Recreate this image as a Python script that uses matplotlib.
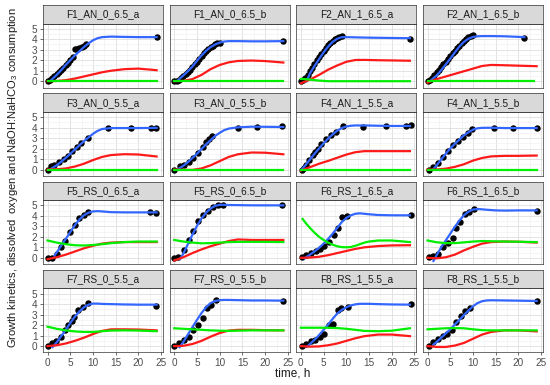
import matplotlib
matplotlib.use("Agg")
import matplotlib.pyplot as plt

plt.rcParams['font.family'] = ['Liberation Sans', 'DejaVu Sans']
plt.rcParams['mathtext.default'] = 'regular'

panels = ['F1_AN_0_6.5_a', 'F1_AN_0_6.5_b', 'F2_AN_1_6.5_a', 'F2_AN_1_6.5_b',
          'F3_AN_0_5.5_a', 'F3_AN_0_5.5_b', 'F4_AN_1_5.5_a', 'F4_AN_1_5.5_b',
          'F5_RS_0_6.5_a', 'F5_RS_0_6.5_b', 'F6_RS_1_6.5_a', 'F6_RS_1_6.5_b',
          'F7_RS_0_5.5_a', 'F7_RS_0_5.5_b', 'F8_RS_1_5.5_a', 'F8_RS_1_5.5_b']

# time grid used for the red curves
grid_t = [0, 2, 4, 6, 8, 10, 12, 14, 17, 20, 24]
half_h = [0, 0.5, 1, 1.5, 2, 2.5, 3, 3.5, 4, 4.5, 5, 5.5, 6, 6.5, 7, 7.5, 8, 8.5, 9, 9.5, 10]

# measured growth (black points)
points = {
    'F1_AN_0_6.5_a': (half_h[:12] + [6, 6.5, 7, 7.5, 8, 8.5, 24],
                      [0, 0.1, 0.3, 0.5, 0.7, 0.9, 1.1, 1.3, 1.5, 1.75, 2.0, 2.3,
                       3.05, 3.1, 3.2, 3.3, 3.4, 3.5, 4.25]),
    'F1_AN_0_6.5_b': (half_h + [24],
                      [0, 0.05, 0.15, 0.3, 0.45, 0.65, 0.86, 1.1, 1.35, 1.6, 1.85, 2.1, 2.4,
                       2.65, 2.9, 3.1, 3.25, 3.4, 3.5, 3.6, 3.68, 3.82]),
    'F2_AN_1_6.5_a': (half_h[:19] + [24],
                      [0, 0.1, 0.3, 0.6, 0.95, 1.3, 1.65, 2.0, 2.3, 2.6, 2.9, 3.2, 3.45,
                       3.65, 3.85, 4.0, 4.1, 4.2, 4.27, 4.05]),
    'F2_AN_1_6.5_b': (half_h + [21.3],
                      [0, 0.15, 0.35, 0.6, 0.85, 1.1, 1.35, 1.6, 1.85, 2.1, 2.4, 2.65, 2.9,
                       3.15, 3.4, 3.65, 3.85, 4.05, 4.2, 4.3, 4.38, 4.1]),
    'F3_AN_0_5.5_a': ([0, 0.7, 1.5, 2.6, 3.7, 4.4, 5.3, 6.5, 7.4, 8.8, 13.4, 18.4, 22.8, 23.9],
                      [0, 0.32, 0.45, 0.7, 1.0, 1.3, 1.8, 2.1, 2.5, 3.0, 3.95, 3.95, 3.95, 4.0]),
    'F3_AN_0_5.5_b': ([0, 1.2, 2.2, 3.3, 4.2, 5.3, 6.4, 6.9, 7.7, 8.2, 14.1, 18.2, 23.7],
                      [0, 0.3, 0.45, 0.75, 1.1, 1.55, 2.1, 2.6, 2.9, 3.15, 3.95, 4.05, 4.1]),
    'F4_AN_1_5.5_a': ([0.2, 0.7, 1.2, 1.9, 2.6, 3.2, 3.8, 4.5, 5.6, 6.7, 7.8, 9.3, 13.7, 18.8, 23.2, 24.2],
                      [0, 0.15, 0.45, 0.9, 1.35, 1.7, 2.0, 2.45, 2.95, 3.25, 3.55, 4.1, 4.05, 4.15, 4.15, 4.25]),
    'F4_AN_1_5.5_b': ([0.4, 1.3, 2.2, 3.3, 4.4, 5.5, 6.6, 7.7, 8.8, 9.8, 14.6, 18.7, 24.1],
                      [0, 0.25, 0.6, 1.2, 1.75, 2.3, 2.7, 3.1, 3.5, 3.9, 3.95, 3.95, 3.95]),
    'F5_RS_0_6.5_a': ([0, 0.9, 2.1, 2.9, 3.9, 4.9, 6.0, 7, 8, 9, 22.6, 23.9],
                      [0, 0, 0.4, 1.05, 1.6, 2.5, 3.1, 3.8, 4.1, 4.4, 4.35, 4.25]),
    'F5_RS_0_6.5_b': ([0, 0.9, 2.2, 3.3, 4.2, 5.3, 6.4, 7.5, 8.6, 9.7, 10.7, 23.7],
                      [0, 0.05, 0.7, 1.65, 2.6, 3.5, 4.05, 4.5, 4.8, 5.0, 5.0, 5.05]),
    'F6_RS_1_6.5_a': ([0.2, 1.2, 2.3, 3.4, 4.3, 5.2, 6.3, 7.4, 8.2, 9.1, 10.2, 24.2],
                      [0.05, 0.3, 0.5, 0.65, 0.85, 1.1, 1.5, 2.2, 2.8, 3.85, 4.0, 4.05]),
    'F6_RS_1_6.5_b': ([0.4, 1.3, 2.2, 3.3, 4.4, 5.5, 6.3, 7.2, 8.2, 9.2, 10.3, 24.1],
                      [0.05, 0.2, 0.4, 1.0, 1.4, 1.9, 2.8, 3.4, 4.2, 4.4, 4.65, 4.45]),
    'F7_RS_0_5.5_a': ([0, 0.9, 1.8, 2.9, 3.8, 4.6, 5.4, 5.9, 6.8, 7.9, 9.0, 23.9],
                      [0, 0.3, 0.5, 0.9, 1.5, 2.0, 2.4, 2.8, 3.4, 3.7, 4.1, 3.85]),
    'F7_RS_0_5.5_b': ([0, 1, 2.2, 3.2, 4.2, 5.3, 6.3, 7.1, 8.1, 9.2, 24],
                      [0, 0.3, 0.55, 0.85, 1.5, 2.0, 2.7, 3.6, 3.9, 4.35, 4.3]),
    'F8_RS_1_5.5_a': ([0.2, 1.2, 2.3, 3.2, 4.3, 5.2, 6.3, 7.1, 8.2, 8.9, 10.4, 24.2],
                      [0, 0.2, 0.45, 0.6, 0.9, 1.2, 2.0, 2.1, 3.45, 3.6, 3.75, 4.0]),
    'F8_RS_1_5.5_b': ([0.4, 1.3, 2.2, 3.3, 4.3, 5.3, 6.2, 7.4, 8.3, 9.3, 24.1],
                      [0, 0.4, 0.7, 1.0, 1.2, 1.55, 2.3, 2.9, 3.3, 3.65, 4.3]),
}

# fitted growth curve (blue)
blue = {
    'F1_AN_0_6.5_a': ([0.7, 2, 3, 4, 5, 6, 7, 8, 9, 10, 11, 12, 14, 17, 20, 24],
                      [0.05, 0.6, 1.05, 1.55, 2.0, 2.45, 2.85, 3.25, 3.6, 3.9, 4.1, 4.2, 4.25, 4.22, 4.2, 4.2]),
    'F1_AN_0_6.5_b': ([0.7, 2, 3, 4, 5, 6, 7, 8, 9, 10, 11, 12, 14, 17, 20, 24],
                      [0.05, 0.55, 0.95, 1.4, 1.95, 2.45, 2.9, 3.25, 3.5, 3.68, 3.78, 3.82, 3.82, 3.8, 3.8, 3.82]),
    'F2_AN_1_6.5_a': ([1.3, 2, 3, 4, 5, 6, 7, 8, 9, 10, 12, 15, 20, 24],
                      [0.0, 0.75, 1.45, 2.1, 2.75, 3.3, 3.75, 4.05, 4.2, 4.2, 4.18, 4.15, 4.12, 4.1]),
    'F2_AN_1_6.5_b': ([0.7, 2, 3, 4, 5, 6, 7, 8, 9, 10, 11, 12, 14, 17, 21.3],
                      [0.06, 0.55, 1.05, 1.6, 2.15, 2.75, 3.3, 3.75, 4.05, 4.22, 4.28, 4.3, 4.3, 4.28, 4.2]),
    'F3_AN_0_5.5_a': ([0.7, 2, 3, 4, 5, 6, 7, 8, 9, 10, 11, 12, 14, 17, 20, 24],
                      [0.05, 0.4, 0.75, 1.1, 1.5, 1.9, 2.3, 2.7, 3.05, 3.4, 3.68, 3.86, 3.95, 3.95, 3.95, 3.97]),
    'F3_AN_0_5.5_b': ([0.9, 2, 3, 4, 5, 6, 7, 8, 9, 10, 11, 12, 14, 17, 20, 24],
                      [0.06, 0.35, 0.7, 1.1, 1.5, 1.95, 2.4, 2.8, 3.2, 3.5, 3.75, 3.9, 4.02, 4.08, 4.07, 4.05]),
    'F4_AN_1_5.5_a': ([0.2, 1, 2, 3, 4, 5, 6, 7, 8, 9, 10, 11, 12, 14, 17, 20, 24],
                      [0, 0.4, 0.95, 1.5, 2.0, 2.5, 2.95, 3.35, 3.7, 3.95, 4.1, 4.17, 4.2, 4.2, 4.17, 4.15, 4.15]),
    'F4_AN_1_5.5_b': ([1.3, 2, 3, 4, 5, 6, 7, 8, 9, 10, 11, 12, 14, 17, 20, 24],
                      [0.05, 0.4, 0.95, 1.5, 2.0, 2.45, 2.85, 3.25, 3.55, 3.8, 3.93, 3.97, 3.98, 3.95, 3.95, 3.95]),
    'F5_RS_0_6.5_a': ([1.5, 2, 3, 4, 5, 6, 7, 8, 9, 10, 11, 12, 14, 17, 20, 24],
                      [0.2, 0.5, 1.15, 1.8, 2.45, 3.1, 3.65, 4.05, 4.3, 4.42, 4.45, 4.42, 4.35, 4.33, 4.33, 4.33]),
    'F5_RS_0_6.5_b': ([1.3, 2, 3, 4, 5, 6, 7, 8, 9, 10, 11, 12, 14, 17, 20, 24],
                      [-0.1, 0.4, 1.3, 2.2, 3.05, 3.75, 4.3, 4.7, 4.95, 5.05, 5.05, 5.03, 5.02, 5.0, 5.0, 5.0]),
    'F6_RS_1_6.5_a': ([0.8, 2, 3, 4, 5, 6, 7, 8, 9, 10, 11, 12, 13, 15, 17, 20, 24],
                      [-0.05, 0.3, 0.6, 0.95, 1.35, 1.8, 2.3, 2.85, 3.4, 3.8, 4.05, 4.2, 4.24, 4.15, 4.08, 4.05, 4.05]),
    'F6_RS_1_6.5_b': ([1.3, 2, 3, 4, 5, 6, 7, 8, 9, 10, 11, 12, 13, 15, 17, 20, 24],
                      [-0.3, 0.25, 1.0, 1.65, 2.3, 2.95, 3.55, 4.05, 4.4, 4.6, 4.65, 4.62, 4.58, 4.52, 4.5, 4.52, 4.52]),
    'F7_RS_0_5.5_a': ([1.1, 2, 3, 4, 5, 6, 7, 8, 9, 10, 11, 12, 14, 17, 20, 24],
                      [-0.1, 0.35, 0.95, 1.55, 2.2, 2.8, 3.3, 3.7, 3.95, 4.05, 4.05, 4.02, 4.0, 3.97, 3.95, 3.95]),
    'F7_RS_0_5.5_b': ([1.2, 2, 3, 4, 5, 6, 7, 8, 9, 10, 11, 12, 14, 17, 20, 24],
                      [-0.1, 0.4, 1.1, 1.8, 2.5, 3.15, 3.7, 4.1, 4.3, 4.38, 4.4, 4.4, 4.38, 4.35, 4.35, 4.33]),
    'F8_RS_1_5.5_a': ([1.5, 2, 3, 4, 5, 6, 7, 8, 9, 10, 11, 12, 13, 15, 17, 20, 24],
                      [0, 0.2, 0.6, 1.05, 1.55, 2.05, 2.6, 3.1, 3.45, 3.7, 3.88, 3.98, 4.03, 4.03, 4.0, 3.97, 3.95]),
    'F8_RS_1_5.5_b': ([1.3, 2, 3, 4, 5, 6, 7, 8, 9, 10, 11, 12, 13, 14, 17, 20, 24],
                      [0.15, 0.4, 0.8, 1.2, 1.6, 2.05, 2.5, 2.95, 3.4, 3.8, 4.1, 4.28, 4.35, 4.37, 4.35, 4.33, 4.3]),
}

# NaOH:NaHCO3 consumption (red), on grid_t
red = {
    'F1_AN_0_6.5_a': [0, 0.02, 0.1, 0.25, 0.45, 0.65, 0.85, 1.0, 1.15, 1.2, 1.05],
    'F1_AN_0_6.5_b': [0, 0.03, 0.2, 0.6, 1.15, 1.55, 1.8, 1.93, 1.97, 1.92, 1.78],
    'F2_AN_1_6.5_a': [-0.2, 0.15, 0.6, 1.1, 1.5, 1.85, 2.02, 2.03, 2.0, 1.98, 1.95],
    'F2_AN_1_6.5_b': [-0.13, 0.2, 0.45, 0.7, 0.95, 1.2, 1.45, 1.55, 1.52, 1.48, 1.43],
    'F3_AN_0_5.5_a': [0, 0.02, 0.1, 0.28, 0.55, 0.9, 1.2, 1.38, 1.46, 1.43, 1.24],
    'F3_AN_0_5.5_b': [0, -0.03, -0.04, 0.1, 0.4, 0.8, 1.2, 1.45, 1.62, 1.6, 1.45],
    'F4_AN_1_5.5_a': [-0.1, 0.22, 0.55, 0.82, 1.12, 1.42, 1.65, 1.75, 1.75, 1.75, 1.75],
    'F4_AN_1_5.5_b': [0, 0, 0.08, 0.25, 0.5, 0.85, 1.1, 1.25, 1.3, 1.3, 1.33],
    'F5_RS_0_6.5_a': [-0.13, 0.05, 0.3, 0.6, 0.9, 1.15, 1.35, 1.45, 1.5, 1.5, 1.5],
    'F5_RS_0_6.5_b': [-0.25, 0.05, 0.45, 0.8, 1.1, 1.35, 1.6, 1.75, 1.7, 1.7, 1.7],
    'F6_RS_1_6.5_a': [0, 0.02, 0.1, 0.25, 0.45, 0.65, 0.85, 1.0, 1.12, 1.18, 1.2],
    'F6_RS_1_6.5_b': [0, -0.05, 0.05, 0.3, 0.7, 1.05, 1.35, 1.5, 1.55, 1.53, 1.45],
    'F7_RS_0_5.5_a': [0, 0.08, 0.25, 0.5, 0.8, 1.15, 1.45, 1.6, 1.6, 1.58, 1.5],
    'F7_RS_0_5.5_b': [0, 0.03, 0.2, 0.5, 0.9, 1.25, 1.48, 1.55, 1.55, 1.52, 1.5],
    'F8_RS_1_5.5_a': [0, -0.05, -0.03, 0.08, 0.25, 0.5, 0.75, 0.95, 1.1, 1.1, 0.95],
    'F8_RS_1_5.5_b': [0, -0.08, -0.08, 0.05, 0.3, 0.7, 1.1, 1.35, 1.5, 1.5, 1.4],
}

# dissolved oxygen (green)
flat0 = ([0, 24], [0, 0])
green = {
    'F1_AN_0_6.5_a': flat0,
    'F1_AN_0_6.5_b': flat0,
    'F2_AN_1_6.5_a': ([0, 1, 2, 3, 4, 5, 6, 8, 12, 24],
                      [0.22, 0.2, 0.15, 0.1, 0.06, 0.03, 0, 0, 0, 0]),
    'F2_AN_1_6.5_b': ([0, 23.5], [0, 0]),
    'F3_AN_0_5.5_a': flat0,
    'F3_AN_0_5.5_b': flat0,
    'F4_AN_1_5.5_a': flat0,
    'F4_AN_1_5.5_b': flat0,
    'F5_RS_0_6.5_a': (grid_t, [1.65, 1.45, 1.3, 1.2, 1.17, 1.22, 1.3, 1.4, 1.5, 1.55, 1.55]),
    'F5_RS_0_6.5_b': (grid_t, [1.7, 1.55, 1.45, 1.38, 1.4, 1.45, 1.5, 1.52, 1.52, 1.52, 1.5]),
    'F6_RS_1_6.5_a': ([0.4, 1, 2, 3, 4, 5, 6, 7, 8, 9, 10, 11, 12, 13, 14, 15, 17, 20, 24],
                      [3.7, 3.35, 2.85, 2.4, 2.0, 1.7, 1.45, 1.25, 1.1, 1.02, 1.0, 1.03, 1.15,
                       1.3, 1.45, 1.55, 1.65, 1.65, 1.5]),
    'F6_RS_1_6.5_b': (grid_t, [1.65, 1.48, 1.4, 1.4, 1.47, 1.55, 1.6, 1.58, 1.55, 1.53, 1.5]),
    'F7_RS_0_5.5_a': (grid_t, [1.85, 1.65, 1.5, 1.4, 1.35, 1.35, 1.42, 1.48, 1.5, 1.48, 1.42]),
    'F7_RS_0_5.5_b': (grid_t, [1.7, 1.65, 1.6, 1.55, 1.5, 1.47, 1.45, 1.47, 1.5, 1.5, 1.5]),
    'F8_RS_1_5.5_a': (grid_t, [1.75, 1.75, 1.75, 1.75, 1.72, 1.65, 1.55, 1.45, 1.42, 1.47, 1.7]),
    'F8_RS_1_5.5_b': (grid_t, [1.6, 1.65, 1.7, 1.72, 1.7, 1.6, 1.52, 1.5, 1.5, 1.5, 1.5]),
}

W, H = 550, 385
fig = plt.figure(figsize=(5.5, 3.85), dpi=100)

col_x = [43, 169.7, 296.3, 423]
pw, ph, sh = 120, 64, 18.5
edge = '#333333'

for i, name in enumerate(panels):
    r, c = divmod(i, 4)
    top = 5 + r * 88.3
    ax = fig.add_axes([col_x[c] / W, 1 - (top + sh + ph) / H, pw / W, ph / H])
    st = fig.add_axes([col_x[c] / W, 1 - (top + sh) / H, pw / W, sh / H])

    st.set_facecolor('#D9D9D9')
    st.set_xticks([])
    st.set_yticks([])
    for s in st.spines.values():
        s.set_color(edge)
        s.set_linewidth(0.5)
    st.text(0.5, 0.48, name, ha='center', va='center', fontsize=7.2, color='#1A1A1A',
            transform=st.transAxes)

    ax.set_xlim(-1.0, 25.4)
    ax.set_ylim(-0.6, 5.5)
    ax.set_xticks([0, 5, 10, 15, 20, 25])
    ax.set_xticks([2.5, 7.5, 12.5, 17.5, 22.5], minor=True)
    ax.set_yticks([0, 1, 2, 3, 4, 5])
    ax.set_yticks([0.5, 1.5, 2.5, 3.5, 4.5], minor=True)
    ax.grid(which='major', color='#DEDEDE', lw=0.6)
    ax.grid(which='minor', color='#EEEEEE', lw=0.4)
    ax.set_axisbelow(True)
    for s in ax.spines.values():
        s.set_color(edge)
        s.set_linewidth(0.5)
    ax.tick_params(which='minor', length=0)
    ax.tick_params(which='major', length=2.5, width=0.5, color=edge, labelsize=7.2,
                   labelcolor='#4D4D4D', pad=1.5,
                   left=(c == 0), labelleft=(c == 0),
                   bottom=(r == 3), labelbottom=(r == 3))

    pt, py = points[name]
    ax.plot(pt, py, 'o', color='black', ms=3.6, zorder=3)
    bt, by = blue[name]
    ax.plot(bt, by, color='#3366FF', lw=1.6, zorder=4)
    ax.plot(grid_t, red[name], color='#FF1A1A', lw=1.6, zorder=4)
    gt, gy = green[name]
    ax.plot(gt, gy, color='#00EE00', lw=1.6, zorder=5)

fig.text(13 / W, 1 - 178 / H,
         'Growth kinetics, dissolved  oxygen and NaOH:NaHCO$_3$ consumption',
         rotation=90, ha='center', va='center', fontsize=8, color='#1A1A1A')
fig.text(293 / W, 1 - 374 / H, 'time, h', ha='center', va='center', fontsize=8.5,
         color='#1A1A1A')

fig.savefig('out.png', dpi=100)
